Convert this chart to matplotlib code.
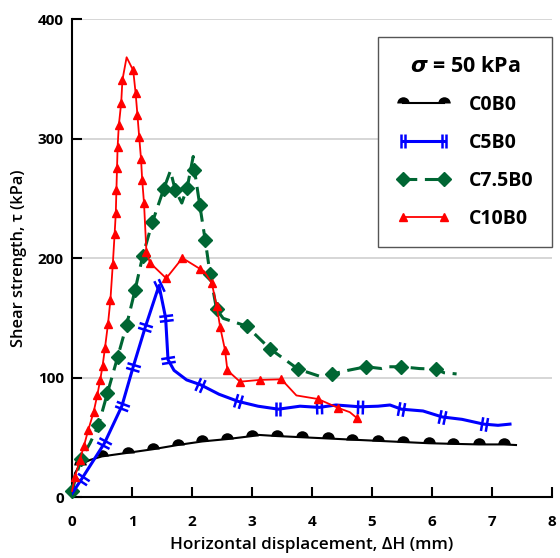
import numpy as np
import matplotlib
matplotlib.use("Agg")
import matplotlib.pyplot as plt
from matplotlib.path import Path
from matplotlib.markers import MarkerStyle
from matplotlib.transforms import Affine2D

plt.rcParams["font.family"] = ["Open Sans", "DejaVu Sans"]
plt.rcParams["mathtext.fontset"] = "dejavusans"

# C0B0
c0_x = [0, 0.05, 0.13, 0.3, 0.5, 0.93, 1.35, 1.76, 2.17, 2.59, 3.0, 3.1, 3.42, 3.84,
        4.26, 4.67, 5.1, 5.52, 5.95, 6.35, 6.78, 7.2, 7.4]
c0_y = [5, 20, 27, 31, 34, 37, 40, 43.5, 46.5, 48.5, 51, 52, 51, 50,
        49, 48, 47, 46, 45, 44.5, 44, 44, 43.5]
c0_marks = [2, 4, 5, 6, 7, 8, 9, 10, 12, 13, 14, 15, 16, 17, 18, 19, 20, 21]

# C5B0
c5_x = [0, 0.16, 0.35, 0.54, 0.83, 1.02, 1.22, 1.45, 1.56, 1.6, 1.7, 1.91, 2.14, 2.45,
        2.77, 3.1, 3.44, 3.8, 4.12, 4.4, 4.8, 5.1, 5.3, 5.49, 5.85, 6.17, 6.5, 6.86, 7.1, 7.3]
c5_y = [3, 15, 30, 45, 76, 109, 142, 177, 150, 115, 106, 98, 94, 86,
        80, 76, 73.5, 76, 75, 77, 75.5, 76, 77, 73.5, 72, 67, 65, 61, 60, 61]
c5_marks = [1, 3, 4, 5, 6, 7, 8, 9, 12, 14, 16, 18, 20, 23, 25, 27]

# C7.5B0
c75_x = [0, 0.15, 0.3, 0.44, 0.59, 0.76, 0.91, 1.05, 1.18, 1.34, 1.53, 1.64, 1.72, 1.83,
         1.92, 2.02, 2.04, 2.13, 2.22, 2.3, 2.41, 2.52, 2.91, 3.3, 3.77, 4.13, 4.34, 4.6,
         4.9, 5.16, 5.27, 5.49, 5.79, 6.07, 6.2, 6.41]
c75_y = [5, 32, 45, 60, 87, 117, 144, 173, 202, 230, 258, 273, 257, 246,
         259, 285, 274, 244, 215, 187, 157, 149.5, 143, 124, 107, 101, 103, 106,
         109, 107.5, 109, 109, 107.5, 107, 104, 103]
c75_marks = [0, 1, 3, 4, 5, 6, 7, 8, 9, 10, 12, 14, 16, 17, 18, 19, 20, 22, 23, 24, 26,
             28, 31, 33]

# C10B0
c10_x = [0, 0.05, 0.13, 0.2, 0.27, 0.36, 0.42, 0.47, 0.51, 0.55, 0.6, 0.64, 0.68, 0.71,
         0.73, 0.74, 0.75, 0.76, 0.78, 0.82, 0.84, 0.91, 1.02, 1.06, 1.09, 1.12, 1.15,
         1.17, 1.2, 1.24, 1.3, 1.57, 1.84, 2.13, 2.2, 2.33, 2.41, 2.47, 2.55, 2.59, 2.8,
         3.13, 3.49, 3.74, 4.1, 4.44, 4.63, 4.75]
c10_y = [5, 17, 31, 43, 56, 71, 85, 98, 110, 125, 145, 165, 195, 220,
         238, 257, 275, 293, 311, 330, 349, 368, 357, 338, 320, 301, 283,
         265, 246, 205, 196, 183, 200, 191, 189, 179, 160, 142, 123, 106, 96.5,
         98, 98.5, 85, 82, 74.5, 71, 66]
c10_marks = [i for i in range(len(c10_x)) if i not in (0, 21, 34, 43, 46)]

fig = plt.figure(figsize=(5.6, 5.58), dpi=100)
ax = fig.add_axes([0.1286, 0.1093, 0.8571, 0.8566])
ax.set_xlim(0, 8)
ax.set_ylim(0, 400)

bars = Path([(-0.35, -1), (-0.35, 1), (0.35, -1), (0.35, 1)],
            [Path.MOVETO, Path.LINETO, Path.MOVETO, Path.LINETO])

ax.plot(c0_x, c0_y, color="black", lw=1.5, marker="o", ms=9, fillstyle="top",
        markerfacecoloralt="none", mec="none", markevery=c0_marks, label="C0B0",
        clip_on=False, zorder=3)

# blue line, double-bar marks turned across the line
ax.plot(c5_x, c5_y, color="#0000ff", lw=2.2, zorder=4)
pts = ax.transData.transform(np.column_stack([c5_x, c5_y]))
for i in c5_marks:
    d = pts[min(i + 1, len(pts) - 1)] - pts[max(i - 1, 0)]
    ang = np.degrees(np.arctan2(d[1], d[0]))
    ms = MarkerStyle(bars, transform=Affine2D().rotate_deg(ang))
    ax.plot([c5_x[i]], [c5_y[i]], ls="none", marker=ms, ms=10, mew=1.8,
            color="#0000ff", zorder=4, clip_on=False)
ax.plot([], [], color="#0000ff", lw=2.2, marker=bars, ms=10, mew=1.8, label="C5B0")

ax.plot(c75_x, c75_y, color="#006633", lw=2.2, ls=(0, (4.5, 2.5)), marker="D", ms=7.5,
        mec="#006633", markevery=c75_marks, label="C7.5B0", clip_on=False, zorder=3)
ax.plot(c10_x, c10_y, color="#ff0000", lw=1.3, marker="^", ms=5.5,
        markevery=c10_marks, label="C10B0", clip_on=False, zorder=5)

ax.set_xticks(range(0, 9))
ax.set_yticks([0, 100, 200, 300, 400])
ax.yaxis.grid(True, color="#d0d0d0", lw=1.2)
ax.set_axisbelow(True)
ax.spines["top"].set_visible(False)
ax.spines["right"].set_visible(False)
ax.spines["left"].set_linewidth(1.5)
ax.spines["bottom"].set_linewidth(1.5)
ax.tick_params(direction="in", length=7, width=1.5, labelsize=11)
ax.tick_params(axis="x", pad=13)
ax.tick_params(axis="y", pad=6)
for t in ax.get_xticklabels() + ax.get_yticklabels():
    t.set_fontweight("bold")

ax.set_xlabel("Horizontal displacement, ΔH (mm)", fontsize=12.3, fontweight="semibold",
              labelpad=6)
ax.set_ylabel("Shear strength, τ (kPa)", fontsize=11.8, fontweight="semibold",
              labelpad=7.5)

leg = ax.legend(loc="upper right", bbox_to_anchor=(1.0, 0.962), borderaxespad=0,
                title=r"$\mathbfit{\sigma}$ = 50 kPa", fancybox=False, framealpha=1,
                edgecolor="#555555", handlelength=2.7, handletextpad=1.0, numpoints=2,
                labelspacing=0.93, borderpad=0.95, prop={"size": 14, "weight": "bold"})
leg.get_title().set_fontsize(15.5)
leg.get_title().set_fontweight("bold")
leg.get_frame().set_linewidth(1.0)

fig.savefig("out.png", dpi=100)
